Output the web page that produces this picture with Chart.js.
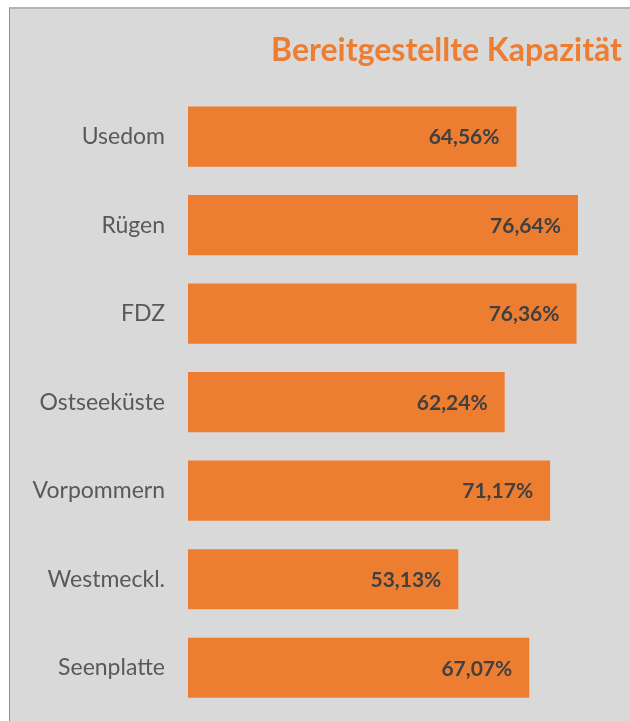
<!DOCTYPE html>
<html>
<head>
<meta charset="utf-8">
<title>Bereitgestellte Kapazität</title>
<script src="https://cdn.jsdelivr.net/npm/chart.js@4"></script>
<style>
  body { margin: 0; background: #ffffff; overflow: hidden; }
  #panel {
    position: absolute; left: 9px; top: 7px; width: 621px; height: 714px;
    background: #d9d9d9;
    border-top: 2px solid #b4b4b4;
    border-left: 1px solid #8f8f8f;
  }
  #myChart { position: absolute; left: 0; top: 0; }
</style>
</head>
<body>
<div id="panel"></div>
<canvas id="myChart" width="630" height="721"></canvas>
<script>
// Regions and their share of provided capacity (%)
var regions = ['Usedom', 'Rügen', 'FDZ', 'Ostseeküste', 'Vorpommern', 'Westmeckl.', 'Seenplatte'];
var capacity = [64.56, 76.64, 76.36, 62.24, 71.17, 53.13, 67.07];

var orange = '#ED7D31';

// write the percentage inside the right end of every bar
var valueLabels = {
  id: 'valueLabels',
  afterDatasetsDraw: function(chart) {
    var ctx = chart.ctx;
    var meta = chart.getDatasetMeta(0);
    ctx.save();
    ctx.font = 'bold 21px Lato';
    ctx.fillStyle = '#404040';
    ctx.textAlign = 'right';
    ctx.textBaseline = 'middle';
    meta.data.forEach(function(bar, i) {
      var txt = capacity[i].toFixed(2).replace('.', ',') + '%';
      ctx.fillText(txt, bar.x - 17, bar.y + 1);
    });
    ctx.restore();
  }
};

const ctx = document.getElementById('myChart');
var chart = new Chart(ctx, {
  type: 'bar',
  data: {
    labels: regions,
    datasets: [{
      data: capacity,
      backgroundColor: orange,
      borderWidth: 0,
      categoryPercentage: 1,
      barPercentage: 0.68
    }]
  },
  options: {
    indexAxis: 'y',
    responsive: false,
    animation: false,
    layout: {
      padding: { left: 0, right: 8, top: 0, bottom: 9 }
    },
    plugins: {
      legend: { display: false },
      tooltip: { enabled: false },
      title: {
        display: true,
        text: 'Bereitgestellte Kapazität',
        align: 'end',
        color: orange,
        font: { family: 'Lato', size: 32, weight: 'bold', lineHeight: 1.2 },
        padding: { top: 31, bottom: 23 }
      }
    },
    scales: {
      x: {
        display: false,
        min: 0,
        max: 85.3
      },
      y: {
        grid: { display: false, drawTicks: false },
        border: { display: false },
        ticks: {
          color: '#595959',
          font: { family: 'Lato', size: 23 },
          padding: 23
        },
        afterFit: function(scale) {
          // fixed label column, and no extra room for the last label
          scale.width = 188;
          scale.paddingTop = 0;
          scale.paddingBottom = 0;
        }
      }
    }
  },
  plugins: [valueLabels]
});
</script>
</body>
</html>
